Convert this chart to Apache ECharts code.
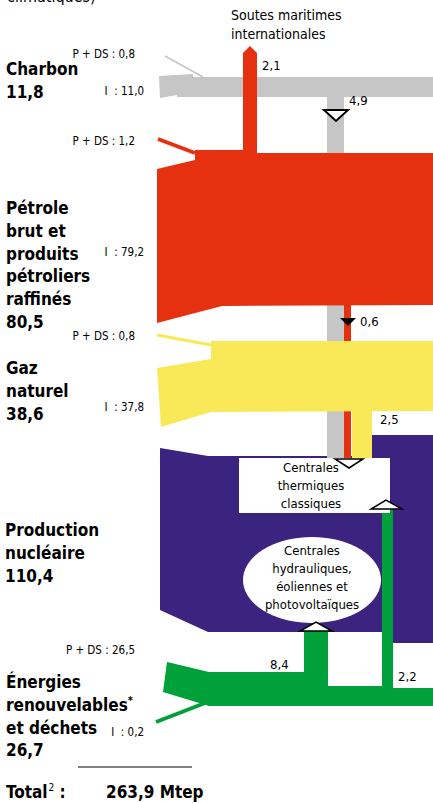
<!DOCTYPE html>
<html><head><meta charset="utf-8">
<script src="https://cdn.jsdelivr.net/npm/echarts@6/dist/echarts.min.js"></script>
<style>html,body{margin:0;padding:0;background:#fff;}#c{width:433px;height:803px;}</style>
</head><body><div id="c"></div>
<script>
// ---------------- data ----------------
const sourceLabels = [['Charbon'], ['Pétrole', 'brut et', 'produits', 'pétroliers', 'raffinés'], ['Gaz', 'naturel'], ['Production', 'nucléaire'], ['Énergies', 'renouvelables*', 'et déchets']];
const sourceTotals = [11.8, 80.5, 38.6, 110.4, 26.7];
const productionValues = [0.8, 1.2, 0.8, null, 26.5];   // P + DS
const importValues = [11.0, 79.2, 37.8, null, 0.2];     // I
const bunkerValue = 2.1;                                // Soutes maritimes internationales
const toThermalValues = [4.9, 0.6, 2.5];                // charbon, pétrole, gaz -> centrales thermiques
const renewToHydro = 8.4;
const renewToThermal = 2.2;
const grandTotal = 263.9;
const unit = 'Mtep';

// ---------------- layout / styles ----------------
const fmt = v => v.toFixed(1).replace('.', ',');
const COL = {red: '#e5310f', gray: '#c6c6c6', yellow: '#f9e958', purple: '#3c2380', green: '#00a13a'};
const FN = "'DejaVu Sans Condensed', 'DejaVu Sans', sans-serif";
const bigFont = 'bold 17px ' + FN;
const smallFont = '11.5px ' + FN;
const midFont = '13px ' + FN;

const shapes = [];
function poly(fill, pts, stroke, lw) { shapes.push({t: 'poly', fill, pts, stroke, lw}); }
function seg(color, p1, p2, lw) { shapes.push({t: 'line', color, p1, p2, lw}); }
function txt(text, x, y, font, align, rich) { shapes.push({t: 'text', text, x, y, font, align: align || 'left', rich}); }

// nuclear
poly(COL.purple, [[160,448],[208,456],[372,456],[372,435],[433,435],[433,643],[383,643],[383,632],[208,632],[160,610]]);
// flows down to thermal plants
poly(COL.gray, [[327,95],[344,95],[344,460],[327,460]]);
poly(COL.red, [[344,300],[351,300],[351,460],[344,460]]);
poly(COL.yellow, [[352,405],[372,405],[372,460],[352,460]]);
// coal
seg(COL.gray, [165,56], [203,77], 1.5);
poly(COL.gray, [[159,76],[193,74],[193,77],[433,77],[433,97],[177,97],[177,95],[160,98]]);
// bunkers
poly(COL.red, [[243,152],[243,53],[250,46],[257,53],[257,152]]);
// oil
seg(COL.red, [158,139], [195,153], 4);
poly(COL.red, [[157,169],[195,160],[195,150],[257,150],[257,153],[433,153],[433,305],[222,306],[157,323]]);
// gas
seg(COL.yellow, [157,335], [211,345], 3);
poly(COL.yellow, [[157,368],[211,359],[211,341],[433,341],[433,411],[211,412],[161,427]]);
// renewables
seg(COL.green, [156,722], [205,703], 4);
poly(COL.green, [[167,662],[209,672],[304,672],[304,628],[328,628],[328,686],[382,686],[382,509],[393,509],[393,688],[433,688],[433,706],[209,706],[163,692]]);
// thermal plant box
poly('#ffffff', [[239,458],[390,458],[390,513],[239,513]]);
// hydro ellipse
(function () {
  const pts = [];
  for (let i = 0; i < 72; i++) { const a = i / 72 * Math.PI * 2; pts.push([312 + 69 * Math.cos(a), 580 + 43 * Math.sin(a)]); }
  poly('#ffffff', pts);
})();
// arrow markers
poly('#ffffff', [[324,110],[348,110],[336,121]], '#000', 2);
poly('#000000', [[340,318],[356,318],[348,326]]);
poly('#ffffff', [[335,459],[363,459],[349,468]], '#000', 1.5);
poly('#ffffff', [[371,509],[402,509],[386,500]], '#000', 1.5);
poly('#ffffff', [[300,631],[332,631],[316,622]], '#000', 1.5);

// texts
txt('climatiques)', 7, -4, '16px ' + FN);
txt('Soutes maritimes', 231, 15, '14px ' + FN);
txt('internationales', 231, 34, '14px ' + FN);
txt(fmt(bunkerValue), 262, 65, midFont);
txt(fmt(toThermalValues[0]), 349, 100, midFont);
txt(fmt(toThermalValues[1]), 360, 321, midFont);
txt(fmt(toThermalValues[2]), 380, 419, midFont);
txt(fmt(renewToHydro), 270, 664, midFont);
txt(fmt(renewToThermal), 398, 676, midFont);

['Centrales', 'thermiques', 'classiques'].forEach((s, i) => txt(s, 311, 467 + i * 18, midFont, 'center'));
['Centrales', 'hydrauliques,', 'éoliennes et', 'photovoltaïques'].forEach((s, i) => txt(s, 312, 550 + i * 18, midFont, 'center'));

const labelTops = [69, 208, 368, 530, 682];
const pdsY = [54, 141, 336, null, 650];
const impY = [91, 252, 407, null, 732];
sourceLabels.forEach((lines, k) => {
  const all = lines.concat([fmt(sourceTotals[k])]);
  all.forEach((s, i) => {
    const y = labelTops[k] + i * 22.8;
    if (s.endsWith('*')) {
      txt('{b|' + s.slice(0, -1) + '}{s|*}', k === 3 ? 5 : 6, y, bigFont, 'left',
        {b: {font: bigFont, fill: '#000'}, s: {font: 'bold 11px ' + FN, fill: '#000', padding: [0,0,9,0]}});
    } else {
      txt(s, k === 3 ? 5 : 6, y, bigFont);
    }
  });
  if (productionValues[k] != null) txt('P + DS : ' + fmt(productionValues[k]), 135, pdsY[k], smallFont, 'right');
  if (importValues[k] != null) txt('I  : ' + fmt(importValues[k]), 144, impY[k], smallFont, 'right');
});
seg('#000000', [78,767], [192,767], 1.2);
txt('{b|Total}{s|2}{b| :}', 6, 792, bigFont, 'left',
  {b: {font: bigFont, fill: '#000'}, s: {font: '10px ' + FN, fill: '#000', padding: [0,0,9,1]}});
txt(fmt(grandTotal) + ' ' + unit, 106, 792, bigFont);

// ---------------- chart ----------------
const chart = echarts.init(document.getElementById('c'), null, {renderer: 'svg'});
chart.setOption({
  animation: false,
  grid: {left: 0, right: 0, top: 0, bottom: 0},
  xAxis: {type: 'value', min: 0, max: 433, show: false},
  yAxis: {type: 'value', min: 0, max: 803, inverse: true, show: false},
  series: [{
    type: 'custom',
    clip: false,
    data: shapes.map((s, i) => [i]),
    renderItem: function (params, api) {
      const s = shapes[params.dataIndex];
      if (s.t === 'poly') {
        return {type: 'polygon', z2: params.dataIndex, shape: {points: s.pts.map(p => api.coord(p))},
          style: {fill: s.fill, stroke: s.stroke || null, lineWidth: s.lw || 0}};
      }
      if (s.t === 'line') {
        const a = api.coord(s.p1), b = api.coord(s.p2);
        return {type: 'line', z2: params.dataIndex, shape: {x1: a[0], y1: a[1], x2: b[0], y2: b[1]},
          style: {stroke: s.color, lineWidth: s.lw}};
      }
      const c = api.coord([s.x, s.y]);
      const st = {text: s.text, x: c[0], y: c[1], font: s.font, fill: '#000', align: s.align, verticalAlign: 'middle'};
      if (s.rich) st.rich = s.rich;
      return {type: 'text', z2: 1000 + params.dataIndex, style: st};
    }
  }]
});
</script></body></html>
